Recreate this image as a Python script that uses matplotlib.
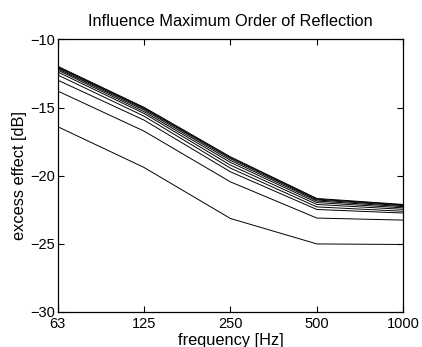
import numpy as np
import matplotlib
matplotlib.use('Agg')
import matplotlib.pyplot as plt

plt.rcParams['font.family'] = ['Liberation Sans', 'DejaVu Sans']
plt.rcParams['axes.unicode_minus'] = True

freq_labels = ['63', '125', '250', '500', '1000']

# excess effect per max reflection order (1 = lowest curve)
order_1 = [-16.40, -19.40, -23.15, -25.02, -25.06]
order_2 = [-13.78, -16.73, -20.46, -23.12, -23.27]
order_3 = [-12.98, -15.92, -19.72, -22.49, -22.75]
order_4 = [-12.60, -15.63, -19.45, -22.30, -22.62]
order_5 = [-12.38, -15.43, -19.23, -22.12, -22.48]
order_6 = [-12.24, -15.30, -19.03, -21.98, -22.37]
order_7 = [-12.15, -15.18, -18.88, -21.87, -22.28]
order_8 = [-12.07, -15.09, -18.76, -21.79, -22.21]
order_9 = [-12.01, -15.03, -18.68, -21.73, -22.16]
order_10 = [-11.96, -14.98, -18.62, -21.68, -22.12]

curves = [order_1, order_2, order_3, order_4, order_5,
          order_6, order_7, order_8, order_9, order_10]

fig = plt.figure(figsize=(4.22, 3.47), dpi=100)
ax = fig.add_axes([0.1363, 0.1017, 0.8194, 0.7845])

x = np.arange(len(freq_labels))
for c in curves:
    ax.plot(x, c, color='black', lw=0.7)

ax.set_xlim(0, len(freq_labels) - 1)
ax.set_ylim(-30, -10)
ax.set_xticks(x)
ax.set_xticklabels(freq_labels)
ax.set_yticks([-30, -25, -20, -15, -10])

ax.tick_params(direction='in', top=True, right=True, length=4, width=0.8,
               labelsize=10.5, pad=2)
ax.tick_params(axis='x', pad=3.5)
for s in ax.spines.values():
    s.set_linewidth(0.9)

ax.set_title('Influence Maximum Order of Reflection', fontsize=11.8, pad=10)
ax.set_xlabel('frequency [Hz]', fontsize=11.8, labelpad=2)
ax.set_ylabel('excess effect [dB]', fontsize=11.8, labelpad=2)

fig.savefig('out.png', dpi=100)
